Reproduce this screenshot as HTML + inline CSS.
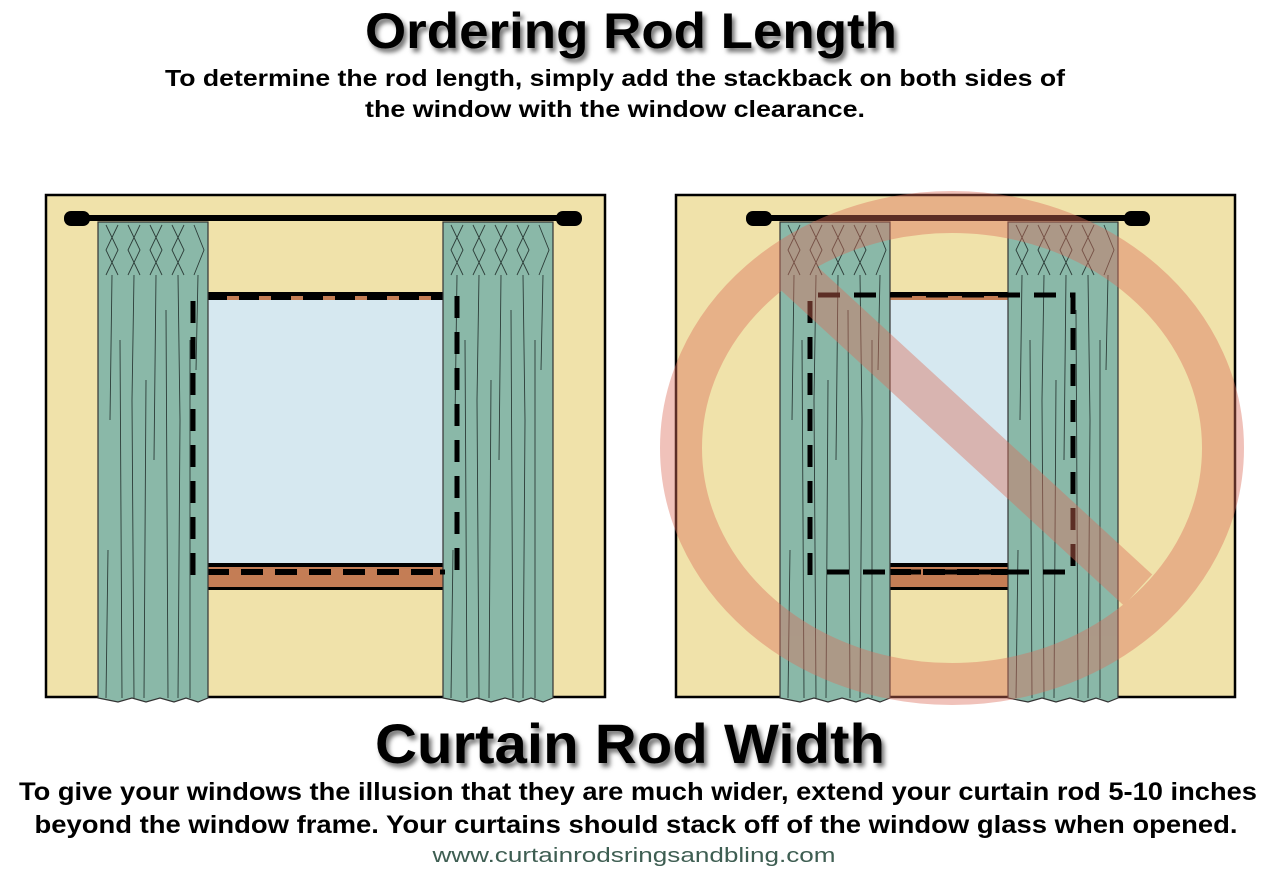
<!DOCTYPE html>
<html><head><meta charset="utf-8"><style>
html,body{margin:0;padding:0;background:#fff;}
svg{display:block}
text{font-family:"Liberation Sans",sans-serif;font-weight:bold;fill:#000}
</style></head><body>
<svg width="1280" height="872" viewBox="0 0 1280 872" xmlns="http://www.w3.org/2000/svg">
<defs>
<filter id="sh" x="-5%" y="-20%" width="115%" height="160%"><feDropShadow dx="3" dy="4" stdDeviation="2.5" flood-color="#000" flood-opacity="0.55"/></filter>
<g id="curt">
  <path d="M0,2 L110,2 L110,478 L100,482 L88,478 L76,482 L62,478 L48,482 L34,478 L20,482 L0,478 Z" fill="#8ab8a8" stroke="#333" stroke-width="1.2"/>
  <g stroke="#2c3c38" stroke-width="0.9" fill="none">
    <path d="M8,5 L20,30 L8,55 M20,5 L8,30 L20,55 M30,5 L42,30 L30,55 M42,5 L30,30 L42,55 M52,5 L64,30 L52,55 M64,5 L52,30 L64,55 M74,5 L86,30 L74,55 M86,5 L74,30 L86,55 M96,5 L106,30 L96,55"/>
    <path d="M14,55 L12,200 M36,55 L34,180 L36,478 M58,55 L56,240 M80,55 L82,200 L80,478 M100,55 L98,150 M22,120 L24,478 M48,160 L46,478 M68,90 L70,478 M92,120 L92,478 M10,330 L8,478"/>
  </g>
</g>
</defs>

<text x="631" y="48" font-size="50" text-anchor="middle" textLength="532" lengthAdjust="spacingAndGlyphs" filter="url(#sh)">Ordering Rod Length</text>
<text x="615" y="86" font-size="23" text-anchor="middle" textLength="900" lengthAdjust="spacingAndGlyphs">To determine the rod length, simply add the stackback on both sides of</text>
<text x="615" y="117" font-size="23" text-anchor="middle" textLength="500" lengthAdjust="spacingAndGlyphs">the window with the window clearance.</text>

<!-- LEFT PANEL -->
<rect x="46" y="195" width="559" height="502" fill="#f0e2aa" stroke="#000" stroke-width="2.5"/>
<rect x="207" y="300" width="236" height="265" fill="#d6e8f0"/>
<rect x="207" y="292" width="243" height="4" fill="#000"/>
<rect x="207" y="296" width="236" height="4" fill="#c47d55"/>
<line x1="207" y1="298" x2="443" y2="298" stroke="#000" stroke-width="4" stroke-dasharray="20 12"/>
<rect x="207" y="563" width="236" height="24" fill="#c47d55"/>
<rect x="207" y="563" width="236" height="4" fill="#000"/>
<line x1="207" y1="572" x2="443" y2="572" stroke="#000" stroke-width="6" stroke-dasharray="22 12"/>
<rect x="207" y="587" width="236" height="3" fill="#000"/>
<use href="#curt" x="98" y="220"/>
<use href="#curt" x="443" y="220"/>
<path d="M193,575 L193,296" stroke="#000" stroke-width="5" fill="none" stroke-dasharray="22 14"/>
<path d="M457,296 L457,572 L440,572" stroke="#000" stroke-width="5" fill="none" stroke-dasharray="22 14"/>
<line x1="75" y1="218" x2="570" y2="218" stroke="#000" stroke-width="6"/>
<rect x="64" y="211" width="26" height="15" rx="7" fill="#000"/>
<rect x="556" y="211" width="26" height="15" rx="7" fill="#000"/>

<!-- RIGHT PANEL -->
<rect x="676" y="195" width="559" height="502" fill="#f0e2aa" stroke="#000" stroke-width="2.5"/>
<rect x="889" y="300" width="119" height="265" fill="#d6e8f0"/>
<rect x="889" y="292" width="119" height="4" fill="#000"/>
<rect x="889" y="296" width="119" height="4" fill="#c47d55"/>
<rect x="889" y="563" width="119" height="24" fill="#c47d55"/>
<rect x="889" y="563" width="119" height="4" fill="#000"/>
<line x1="889" y1="572" x2="1008" y2="572" stroke="#000" stroke-width="6" stroke-dasharray="22 12"/>
<rect x="889" y="587" width="119" height="3" fill="#000"/>
<use href="#curt" x="780" y="220"/>
<use href="#curt" x="1008" y="220"/>
<path d="M810,575 L810,295 L1073,295 L1073,572 L822,572" stroke="#000" stroke-width="5" fill="none" stroke-dasharray="22 14"/>
<line x1="755" y1="218" x2="1140" y2="218" stroke="#000" stroke-width="6"/>
<rect x="746" y="211" width="26" height="15" rx="7" fill="#000"/>
<rect x="1124" y="211" width="26" height="15" rx="7" fill="#000"/>
<g opacity="0.42">
  <ellipse cx="952" cy="448" rx="271" ry="236" fill="none" stroke="#dc6e5a" stroke-width="42"/>
  <line x1="790" y1="270" x2="1138" y2="590" stroke="#dc6e5a" stroke-width="42"/>
</g>

<text x="630" y="763" font-size="56" text-anchor="middle" textLength="510" lengthAdjust="spacingAndGlyphs" filter="url(#sh)">Curtain Rod Width</text>
<text x="638" y="800" font-size="25" text-anchor="middle" textLength="1238" lengthAdjust="spacingAndGlyphs">To give your windows the illusion that they are much wider, extend your curtain rod 5-10 inches</text>
<text x="636" y="833" font-size="25" text-anchor="middle" textLength="1203" lengthAdjust="spacingAndGlyphs">beyond the window frame. Your curtains should stack off of the window glass when opened.</text>
<text x="634" y="862" font-size="20" text-anchor="middle" textLength="403" lengthAdjust="spacingAndGlyphs" style="font-weight:normal;fill:#3e5e52">www.curtainrodsringsandbling.com</text>
</svg>
</body></html>
